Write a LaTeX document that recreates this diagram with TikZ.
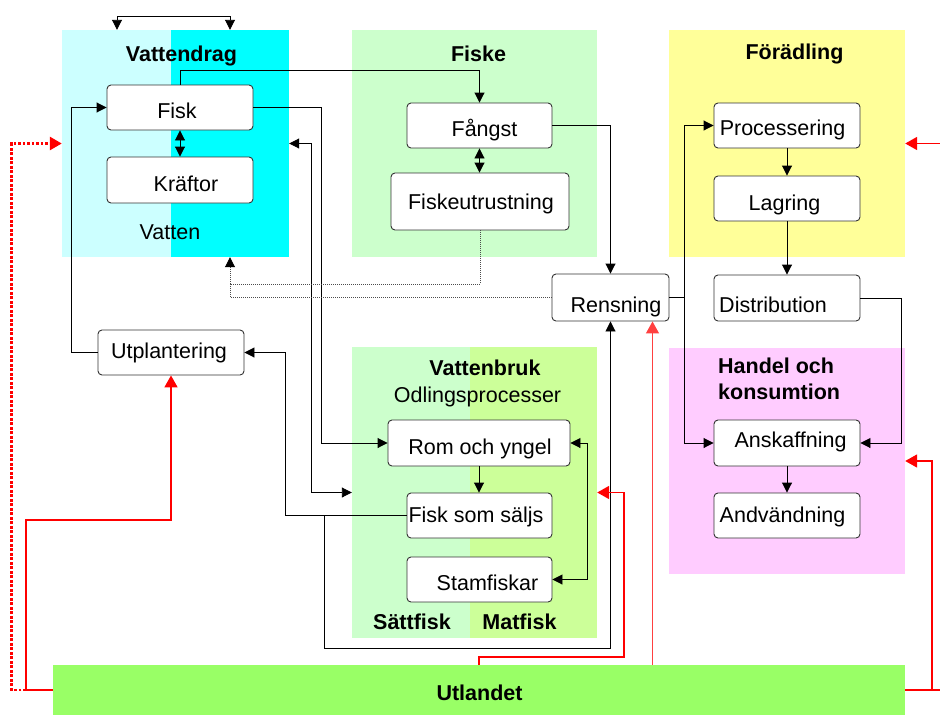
\documentclass[tikz,border=0pt]{standalone}
\usepackage{fontspec}
\setmainfont{Liberation Sans}
\usetikzlibrary{arrows.meta}
\definecolor{lcyan}{HTML}{CCFFFF}
\definecolor{acyan}{HTML}{00FFFF}
\definecolor{lgreen}{HTML}{CCFFCC}
\definecolor{ygreen}{HTML}{CCFF99}
\definecolor{lyellow}{HTML}{FFFF99}
\definecolor{lpink}{HTML}{FFCCFF}
\definecolor{ugreen}{HTML}{99FF66}
\definecolor{rline}{HTML}{FF0000}
\begin{document}
\begin{tikzpicture}[x=1pt,y=-1pt,
  box/.style={draw=black!80, fill=white, rounded corners=4pt, line width=0.9pt, inner sep=0pt, minimum height=45pt},
  region/.style={inner sep=0pt, draw=none},
  txt/.style={font=\fontsize{21.5}{24}\selectfont, inner sep=0pt, anchor=base},
  ttl/.style={font=\fontsize{21.5}{24}\selectfont\bfseries, inner sep=0pt, anchor=base},
  conn/.style={draw=black, line width=0.9pt, -{Triangle[length=10pt,width=10pt]}},
  both/.style={draw=black, line width=0.9pt, {Triangle[length=10pt,width=10pt]}-{Triangle[length=10pt,width=10pt]}},
  plain/.style={draw=black, line width=0.9pt},
  dotl/.style={draw=black!70, line width=0.8pt, dash pattern=on 1pt off 1pt},
  redarr/.style={draw=rline, line width=1.8pt, -{Triangle[length=12pt,width=13pt]}},
  redthin/.style={draw=rline!75, line width=1.2pt, -{Triangle[length=12pt,width=13pt]}},
  reddot/.style={draw=rline, line width=2.7pt, dash pattern=on 2.7pt off 1.8pt, -{Triangle[length=12pt,width=13pt]}}
]
\useasboundingbox (0,0) rectangle (940,715);
\fill[white] (0,0) rectangle (940,715);

% ---------- regions ----------
\node[region, fill=lcyan, minimum width=227pt, minimum height=227pt] (vdrag) at (175.5,143.5) {};
\fill[acyan] (171,30) rectangle (289,257);
\node[region, fill=lgreen, minimum width=245pt, minimum height=227pt] (fiske) at (474.5,143.5) {};
\node[region, fill=lyellow, minimum width=236pt, minimum height=227pt] (foer) at (787,143.5) {};
\node[region, fill=lpink, minimum width=236pt, minimum height=226pt] (handel) at (787,461) {};
\node[region, fill=lgreen, minimum width=245pt, minimum height=291pt] (vbruk) at (474.5,492.5) {};
\fill[ygreen] (470,347) rectangle (597,638);
\node[region, fill=ugreen, minimum width=852pt, minimum height=50pt] (utl) at (479,690) {};

% ---------- named helper coordinates ----------
\coordinate (dotj) at (230,284);
\coordinate (j1) at (324,515.5);
\coordinate (r3) at (624,492.5);
\coordinate (edgeR1) at (940,143.5);
\coordinate (edgeR2) at (940,690);

% ---------- boxes ----------
\node[box, minimum width=146pt] (fisk) at (180,107.5) {};
\node[box, minimum width=146pt, minimum height=46pt] (kraftor) at (180,180) {};
\node[box, minimum width=145pt] (fangst) at (479.5,125.5) {};
\node[box, minimum width=178pt, minimum height=57pt] (fiskeut) at (480,201.5) {};
\node[box, minimum width=146pt] (proc) at (787,125.5) {};
\node[box, minimum width=146pt] (lagr) at (787,198.5) {};
\node[box, minimum width=146pt, minimum height=46pt] (dist) at (787,298) {};
\node[box, minimum width=117pt, minimum height=47pt] (rens) at (610.5,297.5) {};
\node[box, minimum width=146pt, minimum height=46pt] (ansk) at (787,443) {};
\node[box, minimum width=146pt] (andv) at (787,515.5) {};
\node[box, minimum width=146pt] (utpl) at (171,352.5) {};
\node[box, minimum width=182pt, minimum height=46pt] (rom) at (479,443) {};
\node[box, minimum width=145pt] (fss) at (479.5,515.5) {};
\node[box, minimum width=145pt] (stam) at (479.5,579.5) {};

% ---------- black connectors ----------
\draw[both] ([xshift=-58.5pt]vdrag.north) -- ++(0,-13) -| ([xshift=54.5pt]vdrag.north);
\draw[both] (fisk.south) -- (kraftor.north);
\draw[conn] (fisk.north) -- ++(0,-14) -| (fangst.north);
\draw[both] (fangst.south) -- (fangst.south |- fiskeut.north);
\draw[conn] (fisk.east) -- ++(68,0) |- (rom.west);
\draw[both] (vdrag.east) -- ++(22,0) |- (vbruk.west);
\draw[conn] (utpl.west) -- ++(-26,0) |- (fisk.west);
\draw[conn] (fangst.east) -| (rens.north);
\draw[dotl] (fiskeut.south) |- (dotj) -- ([xshift=54.5pt,yshift=-10pt]vdrag.south);
\draw[conn] ([xshift=54.5pt,yshift=-9pt]vdrag.south) -- ([xshift=54.5pt]vdrag.south);
\draw[dotl] (rens.west) -| (dotj);
\draw[conn] (rens.east) -- ++(15,0) |- (proc.west);
\draw[conn] (rens.east) -- ++(15,0) |- (ansk.west);
\draw[conn] (proc.south) -- (lagr.north);
\draw[conn] (lagr.south) -- (dist.north);
\draw[conn] (dist.east) -- ++(41,0) |- (ansk.east);
\draw[conn] (ansk.south) -- (andv.north);
\draw[conn] (rom.south) -- (rom.south |- fss.north);
\draw[both] (stam.east) -- ++(35,0) |- (rom.east);
\draw[conn] (fss.west) -- ++(-121,0) |- (utpl.east);
\draw[conn] (j1) -- ++(0,132.5) -| (rens.south);

% ---------- red connectors ----------
\draw[reddot] (utl.west) -- ++(-41,0) |- (vdrag.west);
\draw[redarr] (utl.west) -- ++(-27,0) -- ++(0,-170) -| (utpl.south);
\draw[redarr] (utl.north) -- ++(0,-8) -| (r3) -- (vbruk.east);
\draw[redthin] ([xshift=42pt]rens.south |- utl.north) -- ([xshift=42pt]rens.south);
\draw[redarr] (utl.east) -- ++(27,0) |- (handel.east);
\draw[draw=rline, line width=1.8pt] (utl.east) -- (edgeR2);
\draw[redarr] (edgeR1) -- (foer.east);

% ---------- texts ----------
\node[ttl] (t-vdrag) at (181.5,61) {Vattendrag};
\node[txt] (t-fisk) at (177,118) {Fisk};
\node[txt] (t-kraftor) at (186,191) {Kräftor};
\node[txt] (t-vatten) at (170,239) {Vatten};
\node[ttl] (t-fiske) at (478.5,61) {Fiske};
\node[txt] (t-fangst) at (484.5,136) {Fångst};
\node[txt] (t-fiskeut) at (481,209) {Fiskeutrustning};
\node[ttl] (t-foer) at (794.5,59) {Förädling};
\node[txt] (t-proc) at (782.5,135) {Processering};
\node[txt] (t-lagr) at (784.5,210) {Lagring};
\node[txt] (t-dist) at (773,312) {Distribution};
\node[txt] (t-rens) at (616,312.5) {Rensning};
\node[ttl, anchor=base west] (t-handel1) at (718,373) {Handel och};
\node[ttl, anchor=base west] (t-handel2) at (718,399) {konsumtion};
\node[txt] (t-ansk) at (790.5,447) {Anskaffning};
\node[txt] (t-andv) at (782.5,522) {Andvändning};
\node[txt] (t-utpl) at (169,358) {Utplantering};
\node[ttl] (t-vbruk) at (485,375) {Vattenbruk};
\node[txt] (t-odl) at (477.5,402) {Odlingsprocesser};
\node[txt] (t-rom) at (480,454) {Rom och yngel};
\node[txt] (t-fss) at (476,522) {Fisk som säljs};
\node[txt] (t-stam) at (487.5,590) {Stamfiskar};
\node[ttl] (t-satt) at (412,629) {Sättfisk};
\node[ttl] (t-mat) at (519.5,629) {Matfisk};
\node[ttl] (t-utl) at (479.5,700) {Utlandet};
\end{tikzpicture}
\end{document}
